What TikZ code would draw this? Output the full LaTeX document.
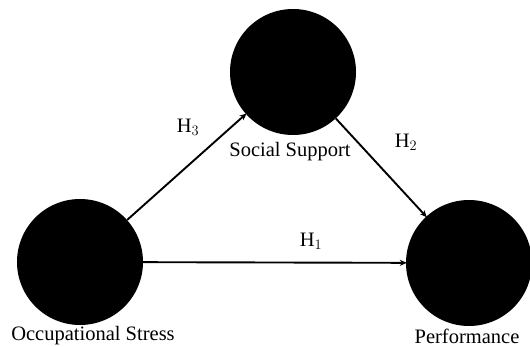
\documentclass[tikz,border=0pt]{standalone}
\usepackage{fontspec}
\setmainfont{Liberation Serif}
\usetikzlibrary{arrows.meta}
\begin{document}
\begin{tikzpicture}[x=1pt,y=-1pt,
  construct/.style={circle,fill=black,minimum size=126pt,inner sep=0pt},
  lbl/.style={font=\fontsize{20.5}{24}\selectfont,inner sep=0pt},
  hyp/.style={font=\fontsize{20.5}{24}\selectfont,inner sep=0pt},
  conn/.style={line width=1.9pt,-{Stealth[length=7pt,width=6pt]},shorten >=-1pt}]
\useasboundingbox (0,0) rectangle (530,347);
\node[construct] (os) at (80,262) {};
\node[construct] (ss) at (293,72) {};
\node[construct] (pf) at (469,263) {};
\node[lbl] (osl) at (93,336) {Occupational Stress};
\node[lbl] (ssl) at (290,152) {Social Support};
\node[lbl] (pfl) at (467,336) {Performance};
\draw[conn] (os) -- (pf);
\draw[conn] (os) -- (ss);
\draw[conn] (ss) -- (pf);
\node[hyp] (h1) at (311,241) {H$_1$};
\node[hyp] (h2) at (406,142) {H$_2$};
\node[hyp] (h3) at (188,127) {H$_3$};
\end{tikzpicture}
\end{document}
